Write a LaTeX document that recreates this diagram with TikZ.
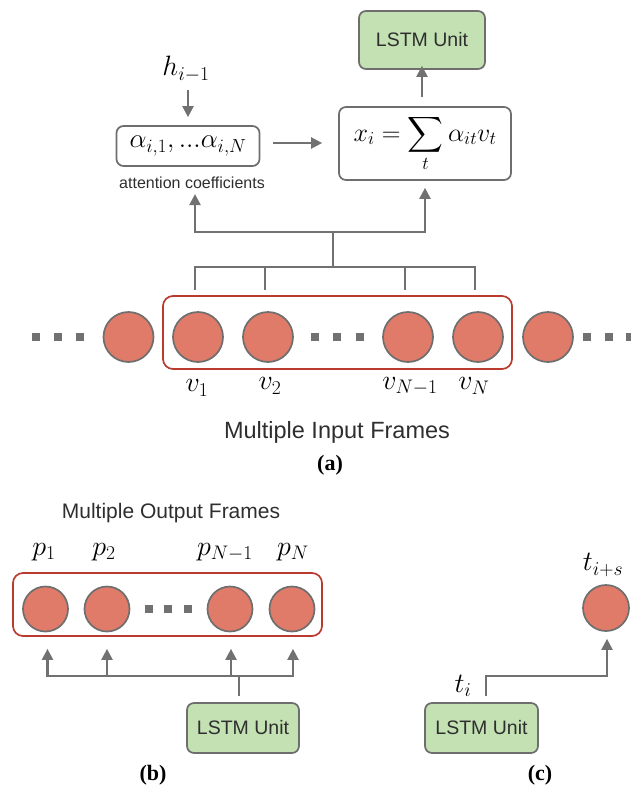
\RequirePackage{fix-cm}
\documentclass[tikz,border=0pt]{standalone}
\usepackage{exscale}
\usepackage[no-math]{fontspec}
\setmainfont{Liberation Sans}
\newfontfamily\capfont{Liberation Serif}
\usetikzlibrary{arrows.meta,calc}
\definecolor{salmon}{HTML}{E07B69}
\definecolor{cgray}{HTML}{6E6E6E}
\definecolor{agray}{HTML}{717171}
\definecolor{redc}{HTML}{BA3A2E}
\definecolor{lgreen}{HTML}{C3E1B3}
\definecolor{darktext}{HTML}{2E2E2E}
\tikzset{
  frame/.style={circle, draw=cgray, fill=salmon, line width=1.7pt, minimum size=50pt, inner sep=0pt},
  sframe/.style={frame, minimum size=45pt},
  lstm/.style={draw=cgray, fill=lgreen, rounded corners=7pt, line width=1.7pt, text=darktext,
    font=\fontsize{19.5}{22}\selectfont, inner sep=0pt},
  mbox/.style={draw=cgray, fill=white, rounded corners=7pt, line width=1.7pt, inner sep=0pt},
  group/.style={draw=redc, rounded corners=10pt, line width=1.7pt, inner sep=0pt},
  arr/.style={draw=agray, line width=2.2pt, -{Triangle[length=11pt,width=11pt]}},
  ln/.style={draw=agray, line width=2.2pt},
  sq/.style={rectangle, fill=agray, minimum size=8pt, inner sep=0pt},
  mlabel/.style={font=\fontsize{28}{32}\selectfont, inner sep=0pt},
  txt/.style={inner sep=0pt, text=darktext},
  captext/.style={inner sep=0pt, font=\capfont\bfseries\fontsize{22}{24}\selectfont}
}
\begin{document}
\begin{tikzpicture}[x=1pt,y=-1pt]
\useasboundingbox (0,0) rectangle (630,790);

% ---------- (a) ----------
\node[lstm, minimum width=126pt, minimum height=58pt] (lstmA) at (422,40) {LSTM Unit};
\node[mlabel] (h) at (186,69) {$h_{i-1}$};
\node[mbox, minimum width=143pt, minimum height=40pt] (alpha) at (188,146) {\fontsize{27}{30}\selectfont$\alpha_{i,1}, ...\alpha_{i,N}$};
\node[txt, font=\fontsize{16}{18}\selectfont] (att) at (192,183) {attention coefficients};
\node[mbox, minimum width=172pt, minimum height=73pt] (xi) at (425,143.5) {\fontsize{26}{30}\selectfont$\displaystyle x_i = \sum_t \alpha_{it} v_t$};

\coordinate (hs) at ($(alpha.north |- h.south)+(0,8)$);
\draw[arr] (hs) -- ($(alpha.north)+(0,-8)$);
\draw[arr] ($(alpha.east)+(13,-3)$) -- ($(xi.west |- alpha.east)+(-16,-3)$);
\draw[arr] ($(xi.north -| lstmA.south)+(0,-9)$) -- ($(lstmA.south)+(0,-4)$);

\node[group, minimum width=349pt, minimum height=73pt] (ga) at (337.5,332.5) {};
\node[frame] (v0) at (128.5,337) {};
\node[frame] (v1) at (198,337) {};
\node[frame] (v2) at (268,337) {};
\node[frame] (vN1) at (408,337) {};
\node[frame] (vN) at (478,337) {};
\node[frame] (v7) at (548,337) {};
\foreach \x in {36,58,80,315,337,360,587,609,630} \node[sq] at (\x,337) {};

\coordinate (hub) at (333,232);
\coordinate (low) at (333,267);
\draw[ln] (low) -- (hub);
\draw[arr] (hub) -| ($(v1.north |- att.south)+(-3,5)$);
\draw[arr] (hub) -| ($(xi.south)+(0,7)$);
\draw[ln] ($(low -| v1)+(-3,0)$) -- ($(low -| vN)+(-3,0)$);
\foreach \v in {v1,v2,vN1,vN}
  \draw[ln] ($(low -| \v)+(-3,-1.1)$) -- ($(ga.north -| \v)+(-3,-5)$);

\node[mlabel] (lv1) at (197,388) {$v_1$};
\node[mlabel] (lv2) at (270,386) {$v_2$};
\node[mlabel] (lvN1) at (410,386) {$v_{N-1}$};
\node[mlabel] (lvN) at (474,386) {$v_N$};
\node[txt, font=\fontsize{23.5}{26}\selectfont] (mif) at (337,432) {Multiple Input Frames};
\node[captext] (capa) at (330,465) {(a)};

% ---------- (b) ----------
\node[txt, font=\fontsize{21}{24}\selectfont] (mof) at (171,513) {Multiple Output Frames};
\node[group, minimum width=309pt, minimum height=63pt] (gb) at (167.5,604.5) {};
\node[sframe] (p1) at (45.5,609) {};
\node[sframe] (p2) at (107,609) {};
\node[sframe] (pN1) at (230,609) {};
\node[sframe] (pN) at (292,609) {};
\foreach \x in {149,168,188} \node[sq] at (\x,609) {};
\node[mlabel] (lp1) at (44,552) {$p_1$};
\node[mlabel] (lp2) at (104,552) {$p_2$};
\node[mlabel] (lpN1) at (225,552) {$p_{N-1}$};
\node[mlabel] (lpN) at (293,552) {$p_N$};

\node[lstm, minimum width=112pt, minimum height=50pt] (lstmB) at (243,728) {LSTM Unit};
\coordinate (bbar) at (239,676);
\draw[ln] ($(lstmB.north -| bbar)+(0,-6)$) -- (bbar);
\draw[ln] ($(bbar -| p1)+(2,0)$) -- ($(bbar -| pN)+(1,0)$);
\draw[arr] ($(bbar -| p1)+(2,1.1)$) -- ($(gb.south -| p1)+(2,12)$);
\draw[arr] ($(bbar -| p2)+(0,1.1)$) -- ($(gb.south -| p2)+(0,12)$);
\draw[arr] ($(bbar -| pN1)+(1,1.1)$) -- ($(gb.south -| pN1)+(1,12)$);
\draw[arr] ($(bbar -| pN)+(1,1.1)$) -- ($(gb.south -| pN)+(1,12)$);
\node[captext] (capb) at (153,775) {(b)};

% ---------- (c) ----------
\node[lstm, minimum width=113pt, minimum height=50pt] (lstmC) at (481.5,728) {LSTM Unit};
\node[sframe, minimum size=46pt] (tis) at (606,608) {};
\node[mlabel] (lti) at (463,686) {$t_i$};
\node[mlabel] (ltis) at (603,565) {$t_{i+s}$};
\coordinate (cup) at (486,676);
\draw[arr] ($(lstmC.north -| cup)+(0,-6)$) -- (cup) -| ($(tis.south)+(1,7)$);
\node[captext] (capc) at (540,775) {(c)};
\end{tikzpicture}
\end{document}
